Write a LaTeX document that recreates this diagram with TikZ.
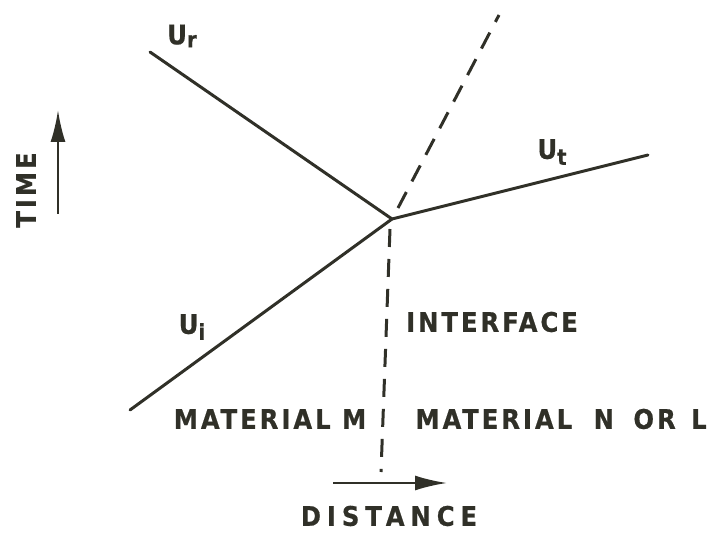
\documentclass[tikz,border=0pt]{standalone}
\usepackage{fontspec}
\setmainfont{DejaVu Sans Condensed}[BoldFont={DejaVu Sans Condensed Bold},BoldFeatures={FakeBold=0.6},LetterSpace=11]
\usetikzlibrary{arrows.meta}
\definecolor{ink}{RGB}{48,48,40}
\begin{document}
\begin{tikzpicture}[x=1pt,y=-1pt,
  wave/.style={ink,line width=3pt,line cap=round},
  dashline/.style={ink,line width=3pt,dash pattern=on 18pt off 12pt},
  axis/.style={ink,line width=2.4pt,-{Latex[length=32pt,width=15pt]}},
  lbl/.style={text=ink,font=\bfseries\fontsize{27}{27}\selectfont,inner sep=0pt}]
\useasboundingbox (0,0) rectangle (711,534);
\coordinate (O) at (392,219);
\coordinate (R) at (150,52);
\coordinate (T) at (648,155);
\coordinate (I) at (130,410);
\coordinate (D1) at (398,208);
\coordinate (D2) at (499,15);
\coordinate (V1) at (390,229);
\coordinate (V2) at (381,472);
\coordinate (ta) at (58,214);
\coordinate (tb) at (58,110);
\coordinate (da) at (333,483);
\coordinate (db) at (447,483);
\draw[wave] (R) -- (O);
\draw[wave] (O) -- (T);
\draw[wave] (I) -- (O);
\draw[dashline] (D1) -- (D2);
\draw[dashline] (V1) -- (V2);
\draw[axis] (ta) -- (tb);
\draw[axis] (da) -- (db);
\node[lbl] (ur) at (182,36) {U\raisebox{-3pt}{\fontsize{22}{22}\selectfont r}};
\node[lbl] (ut) at (552,152) {U\raisebox{-6pt}{\fontsize{22}{22}\selectfont t}};
\node[lbl] (ui) at (192,327) {U\raisebox{-6pt}{\fontsize{22}{22}\selectfont i}};
\node[lbl,rotate=90] (time) at (26,190) {TIME};
\node[lbl] (intf) at (492,322) {INTERFACE};
\node[lbl] (mm) at (270,419) {MATERIAL M};
\node[lbl] (mn) at (561,419) {MATERIAL \hspace{10pt}N \hspace{8pt}OR \hspace{4pt}L};
\node[lbl] (dist) at (389,516) {\addfontfeature{LetterSpace=22}DISTANCE};
\end{tikzpicture}
\end{document}
